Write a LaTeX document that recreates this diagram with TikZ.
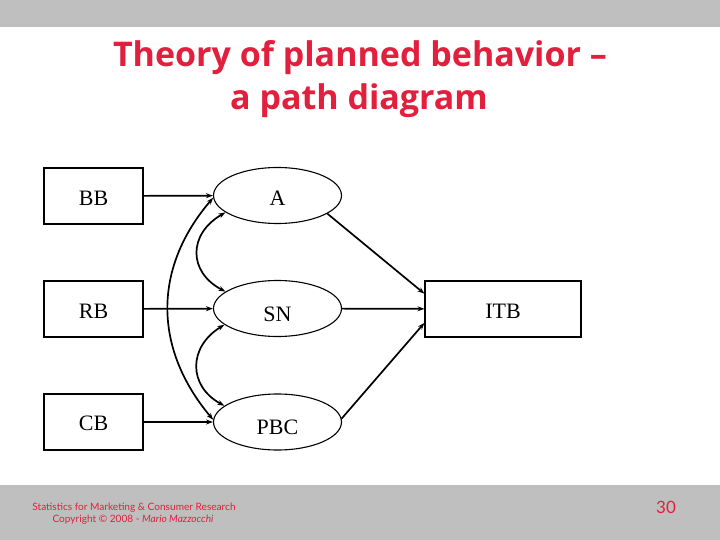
\documentclass[tikz,border=0pt]{standalone}
\usepackage{fontspec}
\setmainfont{Liberation Serif}
\newfontfamily\titlefont{Open Sans}
\newfontfamily\footfont{Lato}
\usetikzlibrary{arrows.meta,shapes.geometric}
\definecolor{slidered}{HTML}{E21F3D}
\definecolor{bandgray}{HTML}{BFBFBF}
\newcommand{\vtxt}[2]{\raisebox{-\dimexpr 7.1pt+#1\relax}[0pt][0pt]{#2}}
\tikzset{
  varbox/.style={draw, line width=1.1pt, minimum width=99pt, minimum height=56pt, inner sep=0pt, font=\fontsize{22}{22}\selectfont},
  latent/.style={draw, ellipse, line width=1.1pt, minimum width=128pt, minimum height=56pt, inner sep=0pt, font=\fontsize{22}{22}\selectfont},
  pathline/.style={line width=1.7pt, -{Stealth[length=7pt,width=5pt]}},
  covline/.style={line width=1.7pt, {Stealth[length=7pt,width=5pt]}-{Stealth[length=7pt,width=5pt]}},
  titletxt/.style={text=slidered, font=\titlefont\bfseries\fontsize{34}{34}\selectfont, anchor=base, inner sep=0pt},
  foot/.style={text=slidered, font=\footfont\fontsize{10.1}{10.1}\selectfont, anchor=base, inner sep=0pt}
}
\begin{document}
\begin{tikzpicture}[x=1pt,y=-1pt]
\useasboundingbox (0,0) rectangle (720,540);
\fill[white] (0,0) rectangle (720,540);
\fill[bandgray] (0,0) rectangle (720,27);
\fill[bandgray] (0,485) rectangle (720,540);

\node[titletxt] (t1) at (360,67) {Theory of planned behavior –};
\node[titletxt] (t2) at (359,110) {a path diagram};

\node[foot] (f1) at (134,510) {Statistics for Marketing \& Consumer Research};
\node[foot] (f2) at (133,522) {Copyright © 2008 - \textit{Mario Mazzocchi}};
\node[text=slidered, font=\footfont\fontsize{17}{17}\selectfont, anchor=base, inner sep=0pt] (pg) at (666,513) {30};

\node[varbox] (BB) at (93.5,196) {\vtxt{2pt}{BB}};
\node[varbox] (RB) at (93.5,309) {\vtxt{2pt}{RB}};
\node[varbox] (CB) at (93.5,422) {\vtxt{1pt}{CB}};

\node[latent] (A) at (277.5,195.5) {\vtxt{2.5pt}{A}};
\node[latent] (SN) at (277.5,308.5) {\vtxt{5.5pt}{SN}};
\node[latent] (PBC) at (277.5,422) {\vtxt{5.5pt}{PBC}};

\node[varbox, minimum width=156pt] (ITB) at (503,309) {\vtxt{2pt}{ITB}};

\draw[pathline] (BB) -- (A);
\draw[pathline] (RB) -- (SN);
\draw[pathline] (CB) -- (PBC);

\draw[pathline] (A.340) -- (ITB.169);
\draw[pathline] (SN) -- (ITB);
\draw[pathline] (PBC.3) -- (ITB.190);

\draw[covline] (A.198) .. controls (188,234) and (188,272) .. (SN.162);
\draw[covline] (SN.197) .. controls (188,347) and (188,386) .. (PBC.163);
\draw[covline] (A.182) .. controls (153,268) and (153,348) .. (PBC.178);
\end{tikzpicture}
\end{document}
